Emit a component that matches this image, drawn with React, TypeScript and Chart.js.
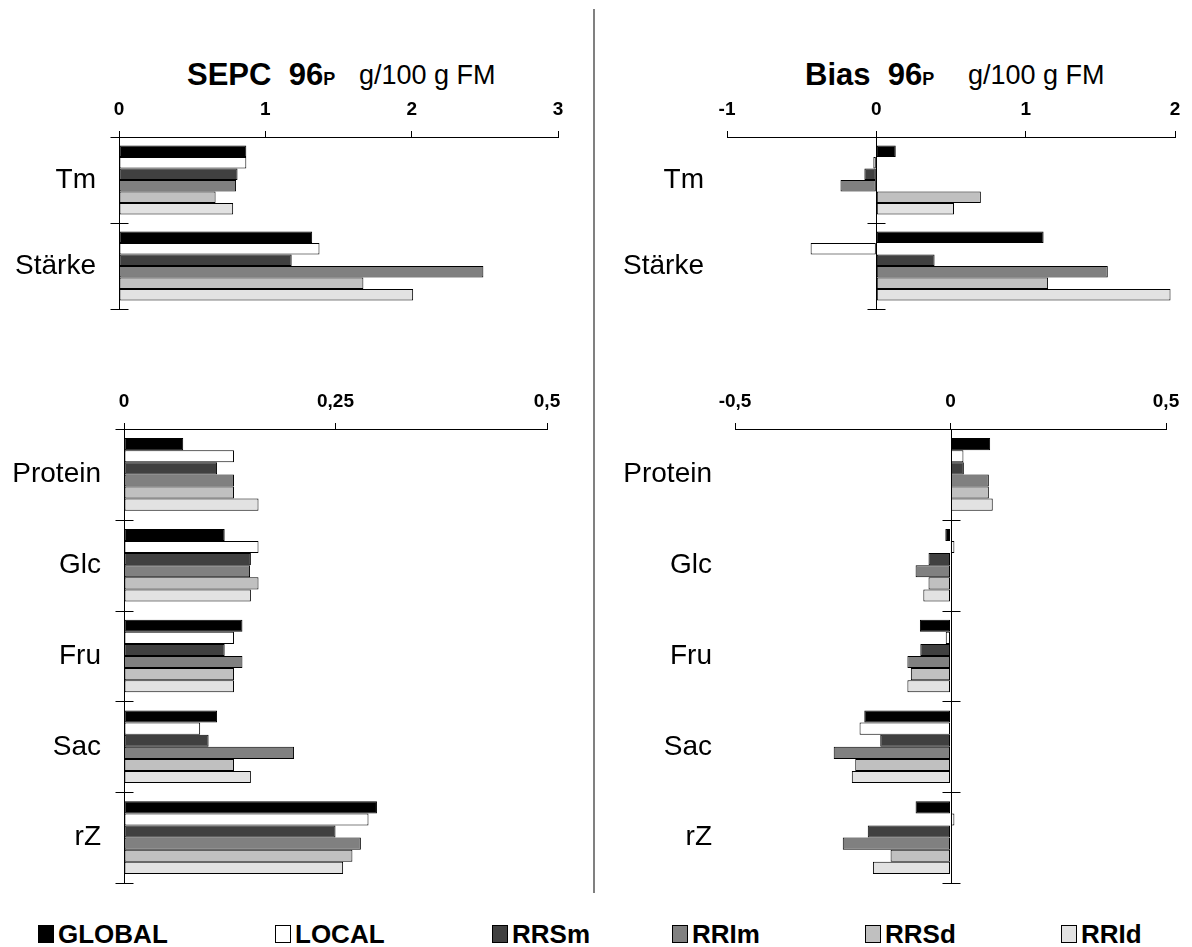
import React, { useEffect, useRef } from 'react';
import { Chart, registerables } from 'chart.js';

Chart.register(...registerables);

const FONT = '"Liberation Sans", Arial, Helvetica, sans-serif';

// ---- series ----
const seriesNames = ['GLOBAL', 'LOCAL', 'RRSm', 'RRIm', 'RRSd', 'RRId'];
const seriesColors = ['#000000', '#ffffff', '#404040', '#808080', '#c0c0c0', '#e2e2e2'];

// ---- categories ----
const topCategories = ['Tm', 'Stärke'];
const bottomCategories = ['Protein', 'Glc', 'Fru', 'Sac', 'rZ'];

// ---- SEPC, Tm / Stärke (g/100 g FM) ----
const sepcTopGLOBAL = [0.87, 1.32];
const sepcTopLOCAL = [0.87, 1.37];
const sepcTopRRSm = [0.81, 1.18];
const sepcTopRRIm = [0.8, 2.49];
const sepcTopRRSd = [0.66, 1.67];
const sepcTopRRId = [0.78, 2.01];

// ---- Bias, Tm / Stärke ----
const biasTopGLOBAL = [0.13, 1.12];
const biasTopLOCAL = [-0.02, -0.44];
const biasTopRRSm = [-0.08, 0.39];
const biasTopRRIm = [-0.24, 1.55];
const biasTopRRSd = [0.7, 1.15];
const biasTopRRId = [0.52, 1.97];

// ---- SEPC, Protein / Glc / Fru / Sac / rZ ----
const sepcBottomGLOBAL = [0.07, 0.119, 0.14, 0.11, 0.299];
const sepcBottomLOCAL = [0.13, 0.159, 0.13, 0.09, 0.289];
const sepcBottomRRSm = [0.11, 0.15, 0.119, 0.1, 0.25];
const sepcBottomRRIm = [0.13, 0.149, 0.14, 0.201, 0.28];
const sepcBottomRRSd = [0.13, 0.159, 0.13, 0.13, 0.27];
const sepcBottomRRId = [0.159, 0.15, 0.13, 0.15, 0.259];

// ---- Bias, Protein / Glc / Fru / Sac / rZ ----
const biasBottomGLOBAL = [0.092, -0.012, -0.071, -0.2, -0.081];
const biasBottomLOCAL = [0.03, 0.009, -0.011, -0.211, 0.009];
const biasBottomRRSm = [0.031, -0.051, -0.07, -0.163, -0.192];
const biasBottomRRIm = [0.089, -0.081, -0.1, -0.271, -0.25];
const biasBottomRRSd = [0.089, -0.051, -0.092, -0.221, -0.139];
const biasBottomRRId = [0.098, -0.063, -0.1, -0.229, -0.18];

// ---- value axes ----
const sepcTopAxis = { min: 0, max: 3, step: 1 };
const biasTopAxis = { min: -1, max: 2, step: 1 };
const sepcBottomAxis = { min: 0, max: 0.5, step: 0.25 };
const biasBottomAxis = { min: -0.5, max: 0.5, step: 0.5 };

// plugin: vertical zero line + crossing tick marks at category boundaries
const axisDecor = {
  id: 'axisDecor',
  afterDatasetsDraw(chart: any) {
    const { ctx, chartArea, scales } = chart;
    const xs = scales.x;
    const ys = scales.y;
    const n = chart.data.labels.length;
    const x0 = Math.round(xs.getPixelForValue(0)) + 0.5;
    ctx.save();
    ctx.strokeStyle = '#000';
    ctx.lineWidth = 1;
    ctx.beginPath();
    ctx.moveTo(x0, chartArea.top);
    ctx.lineTo(x0, chartArea.bottom);
    for (let i = 0; i <= n; i++) {
      const y = Math.round(ys.getPixelForValue(i - 0.5)) + 0.5;
      ctx.moveTo(x0 - 9, y);
      ctx.lineTo(x0 + 9, y);
    }
    ctx.stroke();
    ctx.restore();
  },
};

type PanelProps = {
  categories: string[];
  values: number[][];
  axis: { min: number; max: number; step: number };
  left: number;
  top: number;
  width: number;
  height: number;
  yAxisWidth: number;
  xAxisHeight: number;
  padRight: number;
  padBottom: number;
};

function BarPanel(p: PanelProps) {
  const ref = useRef<HTMLCanvasElement>(null);
  useEffect(() => {
    const chart = new Chart(ref.current as HTMLCanvasElement, {
      type: 'bar',
      data: {
        labels: p.categories,
        datasets: seriesNames.map((name, i) => ({
          label: name,
          data: p.values[i],
          backgroundColor: seriesColors[i],
          borderColor: '#000',
          borderWidth: 1,
          borderSkipped: false,
          barPercentage: 1,
          categoryPercentage: 0.8,
        })),
      },
      options: {
        indexAxis: 'y',
        responsive: false,
        animation: false,
        devicePixelRatio: 1,
        layout: { padding: { left: 0, top: 0, right: p.padRight, bottom: p.padBottom } },
        plugins: {
          legend: { display: false },
          tooltip: { enabled: false },
          title: { display: false },
        },
        scales: {
          x: {
            type: 'linear',
            position: 'top',
            min: p.axis.min,
            max: p.axis.max,
            ticks: {
              stepSize: p.axis.step,
              color: '#000',
              font: { family: FONT, size: 19, weight: 'bold' },
              padding: 10,
              maxRotation: 0,
              autoSkip: false,
              callback: (v: any) => String(v).replace('.', ','),
            },
            grid: {
              display: true,
              drawOnChartArea: false,
              drawTicks: true,
              tickLength: 6,
              color: '#000',
              lineWidth: 1,
            },
            border: { display: true, color: '#000', width: 1 },
            afterFit: (s: any) => {
              s.height = p.xAxisHeight;
              s.paddingLeft = 0;
              s.paddingRight = 0;
            },
          },
          y: {
            type: 'category',
            position: 'left',
            offset: true,
            grid: { display: false, drawTicks: false },
            border: { display: false },
            ticks: { color: '#000', font: { family: FONT, size: 28 }, padding: 23 },
            afterFit: (s: any) => {
              s.width = p.yAxisWidth;
              s.paddingTop = 0;
              s.paddingBottom = 0;
            },
          },
        },
      } as any,
      plugins: [axisDecor],
    });
    return () => chart.destroy();
  }, []);
  return (
    <canvas
      ref={ref}
      width={p.width}
      height={p.height}
      style={{ position: 'absolute', left: p.left, top: p.top, width: p.width, height: p.height }}
    />
  );
}

function PanelTitle({ left, name, unitLeft }: { left: number; name: string; unitLeft: number }) {
  return (
    <>
      <div
        style={{
          position: 'absolute',
          left,
          top: 59,
          fontFamily: FONT,
          fontSize: 31,
          lineHeight: 1,
          fontWeight: 'bold',
          whiteSpace: 'pre',
          color: '#000',
        }}
      >
        {name + '  96'}
        <span style={{ fontSize: 18 }}>P</span>
      </div>
      <div
        style={{
          position: 'absolute',
          left: unitLeft,
          top: 62,
          fontFamily: FONT,
          fontSize: 27,
          lineHeight: 1,
          whiteSpace: 'pre',
          color: '#000',
        }}
      >
        g/100 g FM
      </div>
    </>
  );
}

const legendLefts = [38, 275, 492, 672, 865, 1061];

export default function App() {
  return (
    <div
      style={{
        position: 'absolute',
        left: 0,
        top: 0,
        width: 1192,
        height: 947,
        background: '#fff',
        overflow: 'hidden',
      }}
    >
      <PanelTitle left={187} name="SEPC" unitLeft={359} />
      <PanelTitle left={805} name="Bias" unitLeft={968} />

      <BarPanel
        categories={topCategories}
        values={[sepcTopGLOBAL, sepcTopLOCAL, sepcTopRRSm, sepcTopRRIm, sepcTopRRSd, sepcTopRRId]}
        axis={sepcTopAxis}
        left={0}
        top={90}
        width={590}
        height={225}
        yAxisWidth={119}
        xAxisHeight={47}
        padRight={32}
        padBottom={6}
      />
      <BarPanel
        categories={topCategories}
        values={[biasTopGLOBAL, biasTopLOCAL, biasTopRRSm, biasTopRRIm, biasTopRRSd, biasTopRRId]}
        axis={biasTopAxis}
        left={600}
        top={90}
        width={592}
        height={225}
        yAxisWidth={127}
        xAxisHeight={47}
        padRight={17}
        padBottom={6}
      />
      <BarPanel
        categories={bottomCategories}
        values={[sepcBottomGLOBAL, sepcBottomLOCAL, sepcBottomRRSm, sepcBottomRRIm, sepcBottomRRSd, sepcBottomRRId]}
        axis={sepcBottomAxis}
        left={0}
        top={380}
        width={590}
        height={509}
        yAxisWidth={124}
        xAxisHeight={49}
        padRight={43}
        padBottom={6}
      />
      <BarPanel
        categories={bottomCategories}
        values={[biasBottomGLOBAL, biasBottomLOCAL, biasBottomRRSm, biasBottomRRIm, biasBottomRRSd, biasBottomRRId]}
        axis={biasBottomAxis}
        left={600}
        top={380}
        width={592}
        height={509}
        yAxisWidth={135}
        xAxisHeight={49}
        padRight={26}
        padBottom={6}
      />

      <div style={{ position: 'absolute', left: 593, top: 9, width: 2, height: 884, background: '#808080' }} />

      {seriesNames.map((name, i) => (
        <div
          key={name}
          style={{
            position: 'absolute',
            left: legendLefts[i],
            top: 921,
            display: 'flex',
            alignItems: 'center',
            fontFamily: FONT,
            fontWeight: 'bold',
            fontSize: 26,
            lineHeight: 1,
            color: '#000',
            whiteSpace: 'pre',
          }}
        >
          <span
            style={{
              display: 'inline-block',
              width: 14,
              height: 16,
              background: seriesColors[i],
              border: '1px solid #000',
              marginRight: 4,
            }}
          />
          {name}
        </div>
      ))}
    </div>
  );
}
